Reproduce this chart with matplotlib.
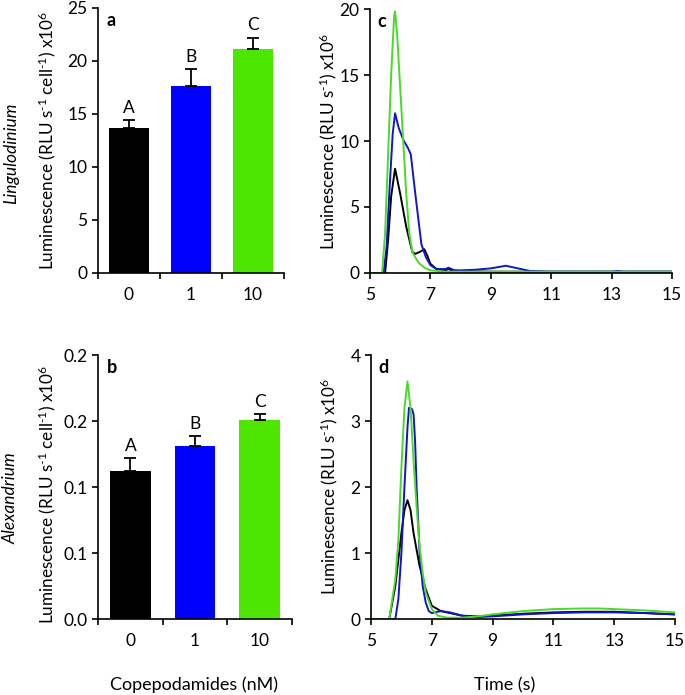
import matplotlib
matplotlib.use("Agg")
import matplotlib.pyplot as plt
import numpy as np

plt.rcParams['font.family'] = ['Lato', 'DejaVu Sans']
plt.rcParams['font.size'] = 12
plt.rcParams['mathtext.fontset'] = 'custom'
plt.rcParams['mathtext.rm'] = 'Lato'
plt.rcParams['mathtext.it'] = 'Lato:italic'

CONC = ["0", "1", "10"]
BAR_COLORS = ["#000000", "#0000ff", "#4ce600"]
LETTERS = ["A", "B", "C"]

LING_MEAN = [13.7, 17.6, 21.1]
LING_ERR = [0.7, 1.6, 1.1]
ALEX_MEAN = [0.112, 0.131, 0.151]
ALEX_ERR = [0.010, 0.008, 0.004]

# kinetics, panel c (Lingulodinium)
C_BLACK_T = [5, 5.5, 5.6, 5.7, 5.83, 6.0, 6.2, 6.4, 6.5, 6.65, 6.8, 6.9, 7.0, 7.2, 7.5, 7.6, 7.7, 8.0, 9, 11, 13, 15]
C_BLACK_Y = [0, 0, 2.5, 5.8, 7.9, 6.0, 3.5, 1.6, 1.45, 1.6, 1.8, 1.3, 0.7, 0.3, 0.2, 0.3, 0.2, 0.15, 0.1, 0.1, 0.1, 0.1]
C_BLUE_T = [5, 5.45, 5.55, 5.65, 5.75, 5.83, 5.95, 6.1, 6.25, 6.35, 6.5, 6.7, 6.85, 7.0, 7.2, 7.5, 7.6, 7.8, 8.0, 8.5, 9.0, 9.5, 10.0, 10.3, 11, 13, 13.2, 13.4, 15]
C_BLUE_Y = [0, 0, 2.0, 6.5, 10.5, 12.1, 11.0, 10.1, 9.5, 9.0, 6.0, 2.2, 1.2, 0.6, 0.3, 0.3, 0.4, 0.2, 0.2, 0.25, 0.35, 0.55, 0.3, 0.15, 0.1, 0.1, 0.15, 0.1, 0.1]
C_GREEN_T = [5, 5.4, 5.5, 5.6, 5.7, 5.8, 5.83, 5.9, 6.0, 6.1, 6.2, 6.3, 6.4, 6.6, 6.8, 7.0, 7.5, 15]
C_GREEN_Y = [0, 0, 3, 9, 15, 19.5, 19.8, 18, 14, 10, 6, 3, 1.6, 0.8, 0.4, 0.2, 0.1, 0.1]

# kinetics, panel d (Alexandrium)
D_BLACK_T = [5, 5.6, 5.8, 5.9, 6.0, 6.1, 6.2, 6.3, 6.4, 6.6, 6.8, 7.0, 7.3, 7.5, 8.0, 8.5, 9, 10, 11, 12, 13, 14, 15]
D_BLACK_Y = [0, 0, 0.5, 0.9, 1.3, 1.65, 1.8, 1.65, 1.3, 0.8, 0.45, 0.2, 0.12, 0.1, 0.05, 0.04, 0.05, 0.08, 0.1, 0.11, 0.11, 0.09, 0.07]
D_BLUE_T = [5, 5.8, 5.9, 6.0, 6.1, 6.2, 6.25, 6.35, 6.4, 6.45, 6.5, 6.6, 6.7, 6.8, 6.9, 7.0, 7.1, 7.3, 7.6, 8.0, 8.5, 9, 10, 11, 12, 13, 14, 15]
D_BLUE_Y = [0, 0, 0.3, 1.0, 2.0, 2.9, 3.2, 3.18, 3.1, 2.7, 2.0, 1.0, 0.5, 0.25, 0.12, 0.09, 0.1, 0.12, 0.1, 0.05, 0.03, 0.04, 0.07, 0.09, 0.1, 0.1, 0.09, 0.07]
D_GREEN_T = [5, 5.6, 5.8, 5.9, 6.0, 6.1, 6.2, 6.3, 6.4, 6.5, 6.6, 6.7, 6.8, 7.0, 7.2, 7.5, 8.0, 8.5, 9, 10, 11, 12, 12.5, 13, 14, 15]
D_GREEN_Y = [0, 0, 0.6, 1.2, 2.3, 3.2, 3.6, 3.2, 2.4, 1.7, 1.1, 0.7, 0.4, 0.15, 0.05, 0.02, 0.02, 0.04, 0.07, 0.12, 0.15, 0.16, 0.16, 0.15, 0.13, 0.1]

LINE_COLORS = ["#000000", "#1414c8", "#4cd92a"]

W, H = 685, 695
fig = plt.figure(figsize=(W / 100, H / 100), dpi=100)


def px_axes(left, top, right, bottom):
    return fig.add_axes([left / W, 1 - bottom / H, (right - left) / W, (bottom - top) / H])


def style(ax):
    for s in ["top", "right"]:
        ax.spines[s].set_visible(False)
    for s in ["left", "bottom"]:
        ax.spines[s].set_linewidth(1.2)
    ax.tick_params(direction="out", length=4, width=1.2, labelsize=12.5)


def bar_panel(ax, means, errs, letter, yticks, ylabels, ymax, pad):
    style(ax)
    x = np.arange(len(means)) + 0.5
    ax.bar(x, means, width=0.63, color=BAR_COLORS)
    ax.errorbar(x, means, yerr=[np.zeros(len(errs)), errs], fmt="none",
                ecolor="black", elinewidth=1.3, capsize=4, capthick=1.3)
    for xi, m, e, lab in zip(x, means, errs, LETTERS):
        ax.text(xi, m + e + pad, lab, ha="center", va="bottom", fontsize=12.5)
    ax.set_xlim(0, 3)
    ax.set_ylim(0, ymax)
    ax.set_xticks([0, 1, 2, 3])
    ax.set_xticklabels([])
    ax.set_xticks(x, minor=True)
    ax.set_xticklabels(CONC, minor=True)
    ax.tick_params(axis="x", which="minor", length=0, pad=10, labelsize=12.5)
    ax.set_yticks(yticks)
    ax.set_yticklabels(ylabels)
    ax.text(0.048, 0.985, letter, transform=ax.transAxes, va="top", ha="left",
            fontsize=13, fontweight="bold")


def line_panel(ax, curves, letter, ymax, ystep):
    style(ax)
    for (t, y), c in zip(curves, LINE_COLORS):
        ax.plot(t, y, color=c, lw=1.4)
    ax.set_xlim(5, 15)
    ax.set_ylim(0, ymax)
    ax.set_xticks(np.arange(5, 16, 2))
    ax.set_yticks(np.arange(0, ymax + 0.01, ystep))
    ax.tick_params(axis="x", pad=6)
    ax.text(0.023, 0.985, letter, transform=ax.transAxes, va="top", ha="left",
            fontsize=13, fontweight="bold")


ax_a = px_axes(98, 8, 284, 273)
bar_panel(ax_a, LING_MEAN, LING_ERR, "a", [0, 5, 10, 15, 20, 25],
          ["0", "5", "10", "15", "20", "25"], 25, 0.4)

ax_b = px_axes(98, 355, 292, 619)
bar_panel(ax_b, ALEX_MEAN, ALEX_ERR, "b", [0, 0.05, 0.1, 0.15, 0.2],
          ["0.0", "0.1", "0.1", "0.2", "0.2"], 0.2, 0.003)

ax_c = px_axes(370, 9, 672, 273)
line_panel(ax_c, [(C_BLACK_T, C_BLACK_Y), (C_BLUE_T, C_BLUE_Y), (C_GREEN_T, C_GREEN_Y)],
           "c", 20, 5)

ax_d = px_axes(371, 355, 675, 619)
line_panel(ax_d, [(D_BLACK_T, D_BLACK_Y), (D_BLUE_T, D_BLUE_Y), (D_GREEN_T, D_GREEN_Y)],
           "d", 4, 1)

cell_lab = r"Luminescence (RLU s$^{\text{-1}}$ cell$^{\text{-1}}$) x10$^{6}$"
flash_lab = r"Luminescence (RLU s$^{\text{-1}}$) x10$^{6}$"
fig.text(47 / W, 1 - 140 / H, cell_lab, rotation=90, ha="center", va="center", fontsize=12.3)
fig.text(47 / W, 1 - 494 / H, cell_lab, rotation=90, ha="center", va="center", fontsize=12.3)
fig.text(328 / W, 1 - 141 / H, flash_lab, rotation=90, ha="center", va="center", fontsize=12.3)
fig.text(329 / W, 1 - 486 / H, flash_lab, rotation=90, ha="center", va="center", fontsize=12.3)
fig.text(11 / W, 1 - 153 / H, "Lingulodinium", rotation=90, ha="center", va="center",
         fontsize=12.5, style="italic")
fig.text(11 / W, 1 - 498 / H, "Alexandrium", rotation=90, ha="center", va="center",
         fontsize=12.5, style="italic")
fig.text(194 / W, 1 - 685 / H, "Copepodamides (nM)", ha="center", va="center", fontsize=13)
fig.text(505 / W, 1 - 685 / H, "Time (s)", ha="center", va="center", fontsize=13)

fig.savefig("out.png", dpi=100)
